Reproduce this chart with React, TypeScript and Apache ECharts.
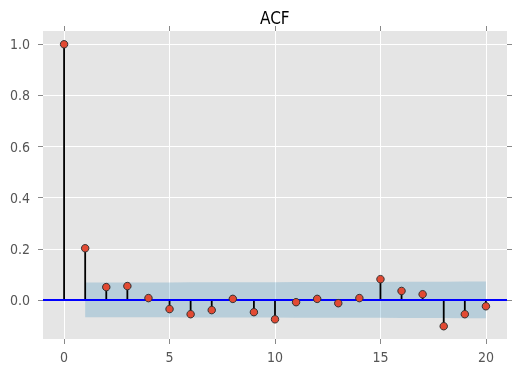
import React, { useEffect, useRef } from "react";
import * as echarts from "echarts";

const lags = [0, 1, 2, 3, 4, 5, 6, 7, 8, 9, 10, 11, 12, 13, 14, 15, 16, 17, 18, 19, 20];
const acfValues = [
  1.0, 0.202, 0.05, 0.054, 0.007, -0.036, -0.056, -0.04, 0.004, -0.048, -0.076,
  -0.009, 0.004, -0.013, 0.007, 0.081, 0.035, 0.022, -0.103, -0.056, -0.025,
];
const bandLags = [1, 2, 3, 4, 5, 6, 7, 8, 9, 10, 11, 12, 13, 14, 15, 16, 17, 18, 19, 20];
const confUpper = [
  0.068, 0.068, 0.068, 0.068, 0.068, 0.069, 0.069, 0.069, 0.069, 0.069,
  0.07, 0.07, 0.07, 0.07, 0.07, 0.071, 0.071, 0.071, 0.072, 0.072,
];
const confLower = confUpper.map((v) => -v);
const xTicks = [0, 5, 10, 15, 20];
const yTicks = [0, 0.2, 0.4, 0.6, 0.8, 1.0];

const FONT = "'DejaVu Sans Condensed', 'Liberation Sans', sans-serif";

export default function App() {
  const ref = useRef<HTMLDivElement>(null);
  useEffect(() => {
    if (!ref.current) return;
    const chart = echarts.init(ref.current, undefined, { renderer: "svg" });
    const tickStyle = { show: true, inside: false, length: 5, lineStyle: { color: "#888", width: 1 } };
    const xBase = {
      type: "value" as const,
      min: -1,
      max: 21,
      axisLine: { show: false, onZero: false },
    };
    const yBase = {
      type: "value" as const,
      min: -0.153,
      max: 1.052,
      axisLine: { show: false, onZero: false },
    };
    chart.setOption({
      animation: false,
      title: {
        text: "ACF",
        left: 255,
        top: 4,
        textStyle: { fontFamily: FONT, fontSize: 17, fontWeight: "normal", color: "#000" },
      },
      grid: {
        left: 43,
        top: 31,
        right: 9,
        bottom: 34,
        show: true,
        backgroundColor: "#e5e5e5",
        borderWidth: 0,
      },
      xAxis: [
        {
          ...xBase,
          position: "bottom",
          axisTick: { ...tickStyle, customValues: xTicks },
          axisLabel: {
            customValues: xTicks,
            color: "#555",
            fontFamily: FONT,
            fontSize: 14,
            margin: 11,
          },
          splitLine: { show: true, lineStyle: { color: "#fff", width: 1 } },
        },
        {
          ...xBase,
          position: "top",
          axisTick: { ...tickStyle, customValues: xTicks },
          axisLabel: { show: false },
          splitLine: { show: false },
        },
      ],
      yAxis: [
        {
          ...yBase,
          position: "left",
          axisTick: { ...tickStyle, customValues: yTicks },
          axisLabel: {
            customValues: yTicks,
            color: "#555",
            fontFamily: FONT,
            fontSize: 14,
            margin: 13,
            formatter: (v: number) => v.toFixed(1),
          },
          splitLine: { show: true, lineStyle: { color: "#fff", width: 1 } },
        },
        {
          ...yBase,
          position: "right",
          axisTick: { ...tickStyle, customValues: yTicks },
          axisLabel: { show: false },
          splitLine: { show: false },
        },
      ],
      series: [
        {
          type: "custom",
          z: 1,
          data: bandLags.map((l, i) => [l, confUpper[i], confLower[i]]),
          renderItem: (params: any, api: any) => {
            if (params.dataIndex !== 0) return { type: "group", children: [] };
            const top = bandLags.map((l, i) => api.coord([l, confUpper[i]]));
            const bot = bandLags.map((l, i) => api.coord([l, confLower[i]])).reverse();
            return {
              type: "polygon",
              shape: { points: top.concat(bot) },
              style: { fill: "rgba(52,138,189,0.25)", stroke: "none" },
            };
          },
        },
        {
          type: "custom",
          z: 2,
          data: lags.map((l, i) => [l, acfValues[i]]),
          renderItem: (params: any, api: any) => {
            const x = api.value(0);
            const p0 = api.coord([x, 0]);
            const p1 = api.coord([x, api.value(1)]);
            return {
              type: "line",
              shape: { x1: p0[0], y1: p0[1], x2: p1[0], y2: p1[1] },
              style: { stroke: "#000", lineWidth: 1.8 },
            };
          },
        },
        {
          type: "line",
          z: 3,
          data: [
            [-1, 0],
            [21, 0],
          ],
          symbol: "none",
          lineStyle: { color: "#0000ff", width: 2 },
        },
        {
          type: "scatter",
          z: 4,
          data: lags.map((l, i) => [l, acfValues[i]]),
          symbol: "circle",
          symbolSize: 7.5,
          itemStyle: { color: "#e24a33", borderColor: "#333", borderWidth: 1, opacity: 1 },
        },
      ],
    });
    return () => chart.dispose();
  }, []);
  return (
    <div
      ref={ref}
      style={{ position: "fixed", left: 0, top: 0, width: 516, height: 373 }}
    />
  );
}
